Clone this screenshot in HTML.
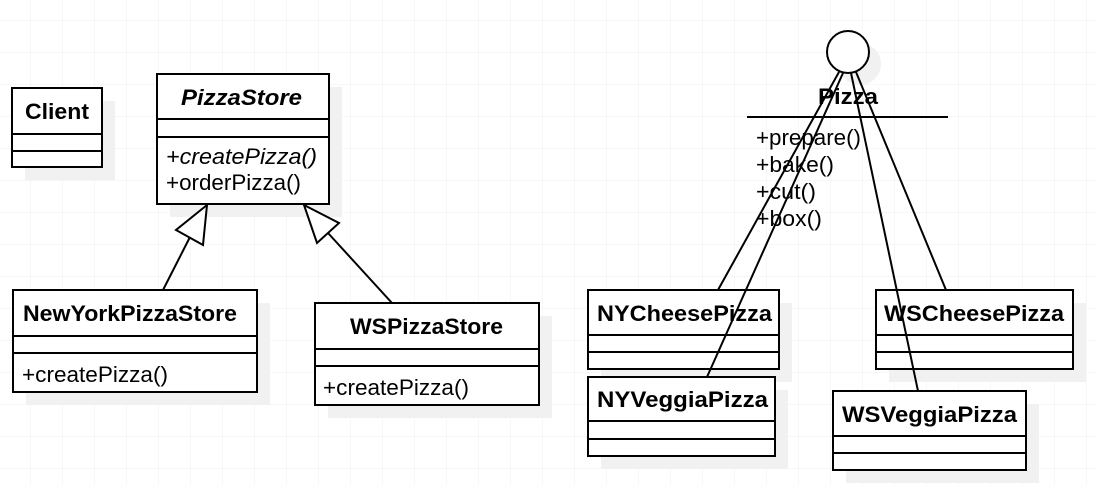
<!DOCTYPE html>
<html><head><meta charset="utf-8"><style>
html,body{margin:0;padding:0;background:#fff;}
svg{display:block;}
text{font-family:"Liberation Sans",Arial,sans-serif;fill:#000;}
.t{font-weight:bold;font-size:22px;}
.m{font-size:22px;}
</style></head><body>
<svg width="1096" height="486" viewBox="0 0 1096 486" xmlns="http://www.w3.org/2000/svg">
<defs>
<pattern id="g" width="32" height="32" patternUnits="userSpaceOnUse" x="-2" y="20">
<path d="M0 0H32M0 0V32" stroke="#efefef" stroke-width="1" fill="none"/>
</pattern>
</defs>
<rect width="1096" height="486" fill="url(#g)"/>
<g fill="#f1f1f1">
<rect x="25" y="101" width="90" height="79"/>
<rect x="170" y="87" width="172" height="130"/>
<rect x="26" y="303" width="244" height="102"/>
<rect x="328" y="316" width="224" height="102"/>
<rect x="601" y="303" width="191" height="79"/>
<rect x="601" y="390" width="187" height="79"/>
<rect x="889" y="303" width="197" height="79"/>
<rect x="846" y="404" width="193" height="79"/>
<circle cx="860" cy="64" r="21"/>
</g>
<g fill="#fff" stroke="#000" stroke-width="2">
<rect x="12" y="88" width="90" height="79"/>
<path d="M12 134H102M12 151H102"/>
<rect x="157" y="74" width="172" height="130"/>
<path d="M157 119H329M157 137H329"/>
<rect x="13" y="290" width="244" height="102"/>
<path d="M13 336H257M13 353H257"/>
<rect x="315" y="303" width="224" height="102"/>
<path d="M315 349H539M315 366H539"/>
<rect x="588" y="290" width="191" height="79"/>
<path d="M588 335H779M588 352H779"/>
<rect x="588" y="377" width="187" height="79"/>
<path d="M588 421H775M588 439H775"/>
<rect x="876" y="290" width="197" height="79"/>
<path d="M876 335H1073M876 352H1073"/>
<rect x="833" y="391" width="193" height="79"/>
<path d="M833 436H1026M833 453H1026"/>
<circle cx="848" cy="52" r="21"/>
</g>
<text class="t" x="818" y="104" textLength="60" lengthAdjust="spacingAndGlyphs">Pizza</text>
<text class="m" x="756" y="145" textLength="105" lengthAdjust="spacingAndGlyphs">+prepare()</text>
<text class="m" x="756" y="172" textLength="78" lengthAdjust="spacingAndGlyphs">+bake()</text>
<text class="m" x="756" y="199" textLength="60" lengthAdjust="spacingAndGlyphs">+cut()</text>
<text class="m" x="756" y="226" textLength="66" lengthAdjust="spacingAndGlyphs">+box()</text>
<text class="t" x="25" y="119" textLength="64" lengthAdjust="spacingAndGlyphs">Client</text>
<text class="t" x="181" y="105" textLength="121" lengthAdjust="spacingAndGlyphs" font-style="italic">PizzaStore</text>
<text class="m" x="166" y="164" textLength="151" lengthAdjust="spacingAndGlyphs" font-style="italic">+createPizza()</text>
<text class="m" x="166" y="190" textLength="135" lengthAdjust="spacingAndGlyphs">+orderPizza()</text>
<text class="t" x="23" y="321" textLength="214" lengthAdjust="spacingAndGlyphs">NewYorkPizzaStore</text>
<text class="m" x="22" y="382" textLength="146" lengthAdjust="spacingAndGlyphs">+createPizza()</text>
<text class="t" x="350" y="334" textLength="153" lengthAdjust="spacingAndGlyphs">WSPizzaStore</text>
<text class="m" x="323" y="395" textLength="146" lengthAdjust="spacingAndGlyphs">+createPizza()</text>
<text class="t" x="597" y="321" textLength="175" lengthAdjust="spacingAndGlyphs">NYCheesePizza</text>
<text class="t" x="597" y="407" textLength="171" lengthAdjust="spacingAndGlyphs">NYVeggiaPizza</text>
<text class="t" x="884" y="321" textLength="180" lengthAdjust="spacingAndGlyphs">WSCheesePizza</text>
<text class="t" x="842" y="422" textLength="175" lengthAdjust="spacingAndGlyphs">WSVeggiaPizza</text>
<g stroke="#000" stroke-width="2" fill="none">
<path d="M747 117H948"/>
<path d="M190 237L163 290"/>
<path d="M328 233L392 303"/>
<path d="M839 72L718 290"/>
<path d="M843 73L707 377"/>
<path d="M851 73L918 391"/>
<path d="M856 72L946 290"/>
</g>
<g stroke="#000" stroke-width="2" fill="#fff">
<path d="M207 205L176 230L203 245Z"/>
<path d="M304 205L339 223L317 243Z"/>
</g>
</svg>
</body></html>
